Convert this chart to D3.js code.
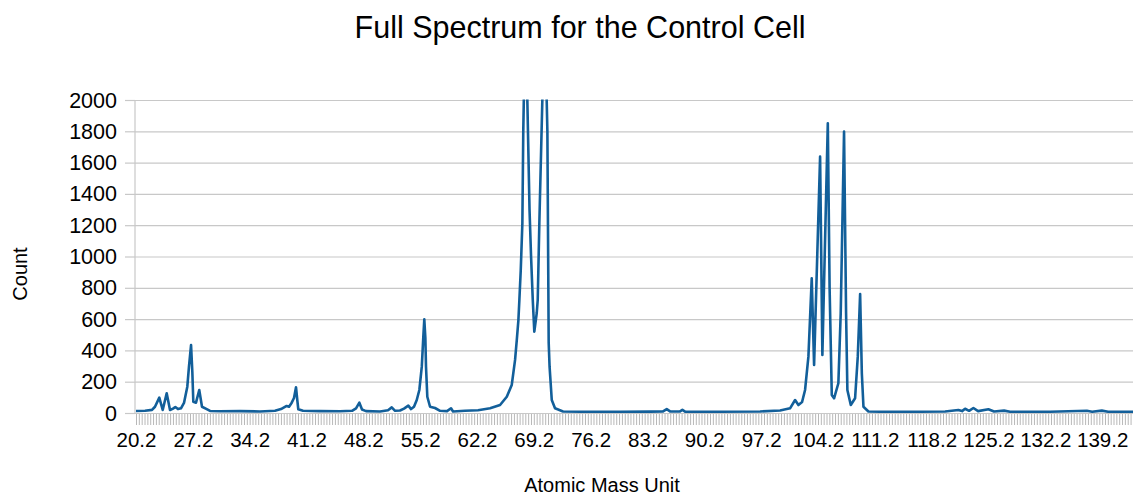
<!DOCTYPE html>
<meta charset="utf-8">
<script src="https://d3js.org/d3.v7.min.js"></script>
<div id="chart"></div>
<style>
body { margin: 0; background: #fff; }
text { font-family: "Liberation Sans", Arial, sans-serif; fill: #000; }
.grid line { stroke: #c8c8c8; stroke-width: 1.2px; }
.grid path { display: none; }
.minor line { stroke: #b8b8b8; stroke-width: 1px; }
.minor path { display: none; }
.xlab path, .xlab line { display: none; }
</style>
<script>
// spectrum: atomic mass unit vs count
var amu = [20.2, 21.31, 22.17, 22.54, 23.07, 23.49, 23.98, 24.39, 24.76, 25.04, 25.37, 25.74,
  26.11, 26.52, 26.73, 26.98, 27.14, 27.26, 27.59, 27.99, 28.33, 28.91, 29.32, 30.55, 33.01,
  35.47, 37.32, 38.06, 38.76, 39.05, 39.38, 39.66, 39.91, 40.07, 40.19, 40.77, 42.87, 45.33,
  46.81, 47.3, 47.71, 48.04, 48.53, 50.26, 51.24, 51.7, 52.11, 52.72, 53.21, 53.74, 54.08,
  54.44, 54.78, 55.1, 55.4, 55.59, 55.71, 55.84, 55.92, 56.08, 56.42, 57.03, 57.65, 58.51,
  59.0, 59.25, 60.73, 62.33, 63.81, 65.04, 65.87, 66.48, 66.89, 67.1, 67.3, 67.42, 67.59,
  67.79, 67.9, 68.17, 68.67, 68.86, 69.07, 69.26, 69.56, 69.68, 69.88, 70.53, 70.87, 71.03,
  71.14, 71.41, 71.81, 72.8, 74.89, 79.82, 83.52, 85.12, 85.57, 85.98, 87.21, 87.5, 87.83,
  92.14, 97.07, 99.53, 100.76, 101.38, 101.79, 102.24, 102.61, 103.02, 103.43, 103.72,
  104.46, 104.74, 105.41, 105.63, 105.9, 106.18, 106.71, 107.0, 107.41, 107.66, 107.82,
  108.24, 108.77, 109.1, 109.39, 109.6, 109.8, 110.41, 111.85, 116.78, 119.86, 121.49, 121.95,
  122.32, 122.81, 123.34, 123.92, 125.19, 125.89, 127.12, 127.86, 132.79, 137.31, 137.97,
  139.16, 139.94, 143.0];
var counts = [13, 14, 20, 40, 98, 19, 126, 19, 28, 38, 25, 30,
  64, 168, 300, 434, 260, 72, 66, 147, 40, 25, 13, 11, 12,
  10, 14, 25, 45, 40, 66, 96, 164, 80, 24, 14, 12, 11,
  14, 30, 66, 22, 12, 10, 18, 36, 14, 16, 28, 47, 25,
  40, 83, 147, 296, 488, 599, 480, 296, 104, 40, 32, 14, 12,
  30, 10, 14, 18, 30, 51, 104, 179, 339, 466, 594, 722, 914,
  1214, 1800, 2600, 1300, 1000, 722, 520, 639, 722, 1214, 2600, 1800, 450,
  296, 83, 30, 10, 8, 8, 9, 10, 25, 10, 10, 20, 9,
  8, 10, 16, 30, 83, 51, 70, 147, 360, 861, 307,
  1638, 371, 1851, 800, 115, 94, 190, 637, 1798, 637, 147,
  51, 94, 360, 760, 254, 40, 10, 8, 8, 10, 19, 12,
  27, 14, 32, 12, 24, 10, 15, 8, 8, 14, 8,
  15, 8, 8];
var yTicks = [0, 200, 400, 600, 800, 1000, 1200, 1400, 1600, 1800, 2000];
var xLabels = [20.2, 27.2, 34.2, 41.2, 48.2, 55.2, 62.2, 69.2, 76.2, 83.2, 90.2, 97.2,
  104.2, 111.2, 118.2, 125.2, 132.2, 139.2];

var W = 1133, H = 496;
var plotL = 135, plotT = 100, plotB = 413, plotR = 1133;

var svg = d3.select("#chart").append("svg")
  .attr("width", W).attr("height", H);

var x = d3.scaleLinear().domain([20.2, 143.0]).range([136, 1133]);
var y = d3.scaleLinear().domain([0, 2000]).range([plotB, plotT]);

// horizontal gridlines plus outer ticks
svg.append("g")
  .attr("class", "grid")
  .attr("transform", "translate(" + plotL + ",0)")
  .call(d3.axisLeft(y).tickValues(yTicks).tickSize(-(plotR - plotL)).tickFormat(""));
svg.append("g")
  .attr("class", "grid")
  .attr("transform", "translate(" + plotL + ",0)")
  .call(d3.axisLeft(y).tickValues(yTicks).tickSize(10).tickFormat(""));

svg.append("line")
  .attr("x1", plotL).attr("x2", plotL).attr("y1", plotT).attr("y2", plotB)
  .style("stroke", "#c8c8c8").style("stroke-width", 1.2);

// y labels
svg.selectAll(".ylab")
  .data(yTicks)
  .enter()
  .append("text")
    .attr("class", "ylab")
    .attr("x", 117)
    .attr("y", function(d) { return y(d) + 7.5; })
    .attr("text-anchor", "end")
    .style("font-size", "21.5px")
    .text(function(d) { return d; });

// dense category ticks
var minor = d3.range(20.2 - 0.35 * 4, 143.0, 0.35).filter(function(v) { return x(v) >= plotL; });
svg.append("g")
  .attr("class", "minor")
  .attr("transform", "translate(0," + (plotB + 1) + ")")
  .call(d3.axisBottom(x).tickValues(minor).tickSize(11).tickFormat(""));

svg.append("g")
  .attr("class", "xlab")
  .attr("transform", "translate(0," + (plotB + 14) + ")")
  .call(d3.axisBottom(x).tickValues(xLabels).tickSize(0).tickPadding(0).tickFormat(d3.format(".1f")))
  .selectAll("text")
    .attr("dy", null)
    .attr("y", 20)
    .style("font-size", "20.5px")
    .style("font-family", "Liberation Sans, Arial, sans-serif")
    .style("fill", "#000");

svg.append("clipPath").attr("id", "plotclip")
  .append("rect")
    .attr("x", plotL).attr("y", plotT - 0.5)
    .attr("width", plotR - plotL).attr("height", plotB - plotT + 10);

var pts = amu.map(function(a, i) { return [a, counts[i]]; });
var line = d3.line()
  .x(function(d) { return x(d[0]); })
  .y(function(d) { return y(d[1]); });

svg.append("path")
  .datum(pts)
  .attr("clip-path", "url(#plotclip)")
  .attr("d", line)
  .style("fill", "none")
  .style("stroke", "#125f9a")
  .style("stroke-width", 2.6)
  .style("stroke-linejoin", "round");

svg.append("text")
  .attr("x", 580).attr("y", 38)
  .attr("text-anchor", "middle")
  .style("font-size", "30.5px")
  .text("Full Spectrum for the Control Cell");

svg.append("text")
  .attr("x", 602).attr("y", 492)
  .attr("text-anchor", "middle")
  .style("font-size", "20px")
  .text("Atomic Mass Unit");

svg.append("text")
  .attr("transform", "translate(27,274) rotate(-90)")
  .attr("text-anchor", "middle")
  .style("font-size", "20px")
  .text("Count");
</script>
